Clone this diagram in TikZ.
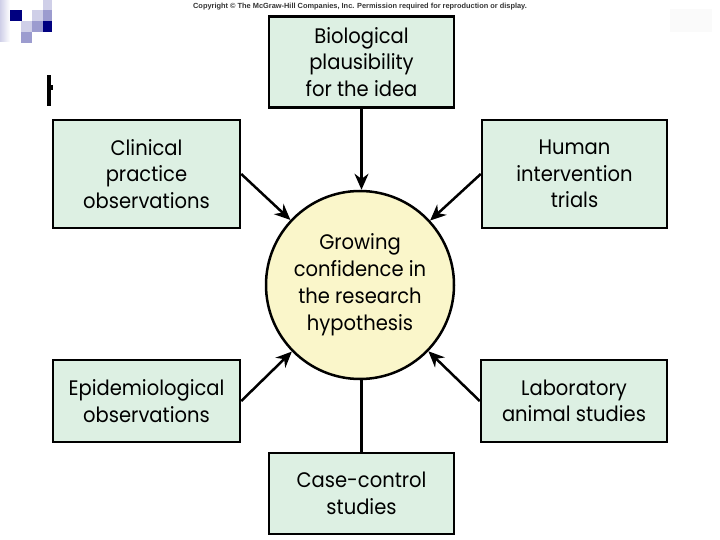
\documentclass[tikz,border=0pt]{standalone}
\usepackage{fontspec}
\setmainfont{Poppins}[FakeStretch=0.93]
\newfontfamily\copyfont{Liberation Sans}
\usetikzlibrary{arrows.meta}
\definecolor{boxfill}{HTML}{DDF0E3}
\definecolor{circfill}{HTML}{FAF6CA}
\definecolor{navy}{HTML}{000080}
\definecolor{midblue}{HTML}{9C9CCF}
\definecolor{lightblue}{HTML}{CFCFE8}
\begin{document}
\begin{tikzpicture}[x=1pt,y=-1pt,
  srcbox/.style={draw=black,line width=2.5pt,fill=boxfill,align=center,inner sep=0pt,
    font=\fontsize{21}{26.5}\selectfont},
  hub/.style={circle,draw=black,line width=2.5pt,fill=circfill,align=center,inner sep=0pt,
    minimum size=188pt,font=\fontsize{21}{27}\selectfont},
  feed/.style={line width=2.5pt,-{Stealth[length=16pt,width=14pt]}},
  plain/.style={line width=2.5pt}]
\useasboundingbox (0,0) rectangle (720,540);
\fill[white] (0,0) rectangle (720,540);
% slide decoration
\shade[left color=lightblue,right color=white] (0,0) rectangle (10,42);
\fill[navy] (10,10) rectangle (22,21);
\fill[lightblue] (32,10) rectangle (43,21);
\fill[lightblue] (43,0) rectangle (52,10);
\fill[midblue] (43,10) rectangle (52,21);
\fill[lightblue] (21,21) rectangle (32,32);
\fill[midblue] (32,21) rectangle (43,32);
\fill[navy] (43,21) rectangle (52,32);
\fill[midblue] (21,32) rectangle (32,43);
\fill[black] (47,75) rectangle (51,106);
\fill[black] (51,85) rectangle (52.5,90);
\fill[gray!4] (670,9) rectangle (712,32);
% copyright
\node[font=\copyfont\bfseries\fontsize{7.4}{9}\selectfont,text=black!80] (copy) at (360,7)
  {Copyright \textcopyright{} The McGraw-Hill Companies, Inc. Permission required for reproduction or display.};
% nodes
\node[srcbox,minimum width=185pt,minimum height=91pt] (bio) at (361.5,62)
  {Biological\\plausibility\\for the idea};
\node[srcbox,minimum width=187pt,minimum height=108pt] (clin) at (146.5,174)
  {Clinical\\practice\\observations};
\node[srcbox,minimum width=185pt,minimum height=108pt] (hum) at (574.5,174)
  {Human\\intervention\\trials};
\node[srcbox,minimum width=187pt,minimum height=82pt] (epi) at (146.5,401)
  {Epidemiological\\observations};
\node[srcbox,minimum width=186pt,minimum height=82pt] (lab) at (574,401)
  {Laboratory\\animal studies};
\node[srcbox,minimum width=185pt,minimum height=81pt] (case) at (361.5,493.5)
  {Case-control\\studies};
\node[hub] (hyp) at (360,285)
  {Growing\\confidence in\\the research\\hypothesis};
% connectors
\draw[feed] (bio.south) -- (bio.south |- hyp.north);
\draw[feed] (clin.east) -- (hyp);
\draw[feed] (hum.west) -- (hyp);
\draw[feed] (epi.east) -- (hyp);
\draw[feed] (lab.west) -- (hyp);
\draw[plain] (case.north) -- (case.north |- hyp.south);
\end{tikzpicture}
\end{document}
